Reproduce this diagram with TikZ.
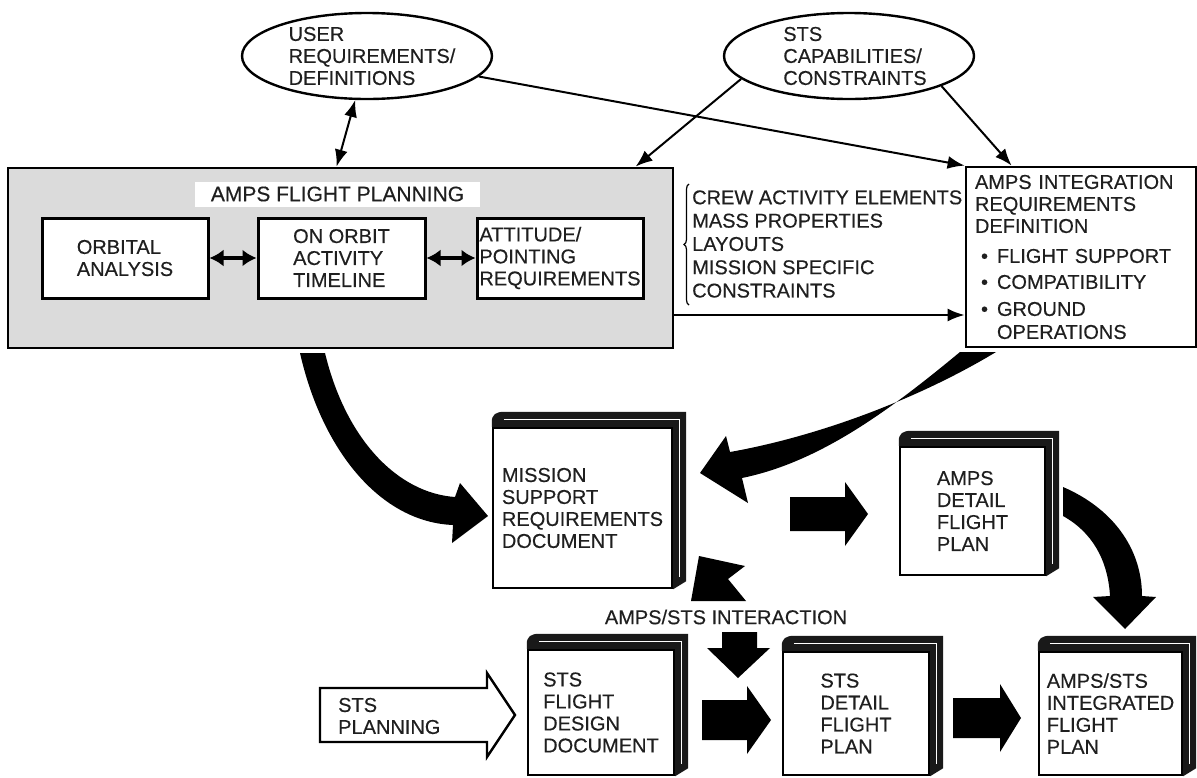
\documentclass[tikz,border=0pt]{standalone}
\usepackage{fontspec}
\setmainfont{Liberation Sans}[FakeBold=0.35]
\usetikzlibrary{shapes.geometric,arrows.meta,calc,decorations.pathreplacing}
\newcommand\bookdeco[1]{%
  \fill[black!90] let \p1=(#1.north west), \p2=(#1.south east) in
    (\x1,\y1) -- (\x1,\y1+5pt) .. controls (\x1,\y1+12pt) and (\x1+4pt,\y1+15pt) .. (\x1+12pt,\y1+15pt)
    -- (\x2+13pt,\y1+15pt) -- (\x2+13pt,\y2+8pt) -- (\x2,\y2) -- (\x2,\y1) -- cycle;
  \draw[white, line width=1.2pt] let \p1=(#1.north west), \p2=(#1.south east) in
    (\x1+12pt,\y1+7pt) -- (\x2+6pt,\y1+7pt) -- (\x2+6pt,\y2+12pt);
}
\newcommand\bul{\hspace*{6pt}\textbullet\hspace{9pt}}
\begin{document}
\begin{tikzpicture}[x=1pt,y=-1pt,
  every node/.style={font=\fontsize{20}{22}\selectfont, inner sep=0pt, text=black!88},
  oval/.style={ellipse, draw, line width=2.4pt, minimum width=250pt, minimum height=86pt},
  inbox/.style={draw, line width=3pt, fill=white, minimum width=166pt, minimum height=80pt, align=left},
  cover/.style={draw, line width=2.4pt, fill=white, align=left},
  conn/.style={line width=2pt, -{Latex[length=17pt,width=13pt]}},
  conntwo/.style={line width=2pt, {Latex[length=17pt,width=13pt]}-{Latex[length=17pt,width=13pt]}},
  dbl/.style={line width=4pt, {Latex[length=14pt,width=17pt]}-{Latex[length=14pt,width=17pt]}},
  blk/.style={fill=black}
]
\useasboundingbox (0,0) rectangle (1197,777);

% ellipses
\node[oval] (user) at (367,56) {};
\node[align=left] (usertext) at (372,56) {USER\\REQUIREMENTS/\\DEFINITIONS};
\node[oval] (sts) at (849,56) {};
\node[align=left] (ststext) at (855,56) {STS\\CAPABILITIES/\\CONSTRAINTS};

% flight planning
\node[draw, line width=2.8pt, fill=black!14, minimum width=665pt, minimum height=180pt] (fp) at (340.5,258) {};
\node[fill=white, minimum width=285pt, minimum height=25pt, font=\fontsize{21}{22}\selectfont] (fptitle) at (337.5,194) {AMPS FLIGHT PLANNING};
\node[inbox] (orb) at (125,258) {ORBITAL\\ANALYSIS};
\node[inbox, minimum width=167pt] (tl) at (341.5,258) {ON ORBIT\\ACTIVITY\\TIMELINE};
\node[inbox] (att) at (560,258) {ATTITUDE/\\POINTING\\REQUIREMENTS};
\draw[dbl] (orb) -- (tl);
\draw[dbl] (tl) -- (att);

% integration box
\node[draw, line width=2.8pt, fill=white, minimum height=180pt, text width=212pt, inner xsep=9pt, align=left] (int) at (1081,257)
 {AMPS INTEGRATION\\REQUIREMENTS\\DEFINITION\\[8pt]\bul FLIGHT SUPPORT\\[4pt]\bul COMPATIBILITY\\[5pt]\bul GROUND\\[1pt]\hspace*{22pt}OPERATIONS};

% list with brace
\node[align=left, font=\fontsize{20}{23.3}\selectfont, anchor=west] (list) at (692,244)
 {CREW ACTIVITY ELEMENTS\\MASS PROPERTIES\\LAYOUTS\\MISSION SPECIFIC\\CONSTRAINTS};
\draw[line width=1.2pt, decorate, decoration={brace, amplitude=5pt}] (689,305) -- (689,184);

% connectors
\draw[conntwo] (user.255) -- ($(fp.north west)+(330,0)$);
\draw[conn] (user) -- (int.north west);
\draw[conn] (sts.192) -- ($(fp.north west)+(629,0)$);
\draw[conn] (sts.342) -- ($(int.north west)+(47,0)$);
\draw[conn] ([yshift=-57pt]fp.east) -- ([yshift=-57pt]fp.east -| int.west);

% books
\node[cover, minimum width=179pt, minimum height=160pt] (msrd) at (582.5,508) {MISSION\\SUPPORT\\REQUIREMENTS\\DOCUMENT};
\bookdeco{msrd}
\node[cover, minimum width=145pt, minimum height=128pt] (adfp) at (972.5,511) {AMPS\\DETAIL\\FLIGHT\\PLAN};
\bookdeco{adfp}
\node[cover, minimum width=146pt, minimum height=125pt] (fdd) at (601,712.5) {STS\\FLIGHT\\DESIGN\\DOCUMENT};
\bookdeco{fdd}
\node[cover, minimum width=146pt, minimum height=123pt] (sdfp) at (856,713.5) {STS\\DETAIL\\FLIGHT\\PLAN};
\bookdeco{sdfp}
\node[cover, minimum width=143pt, minimum height=123pt] (ifp) at (1110.5,713.5) {AMPS/STS\\INTEGRATED\\FLIGHT\\PLAN};
\bookdeco{ifp}

% STS planning hollow arrow
\draw[line width=2.4pt, fill=white] (320,688) -- (487,688) -- (487,673) -- (515,715) -- (487,757) -- (487,742) -- (320,742) -- cycle;
\node[align=left, anchor=west] (stsplan) at (338,716) {STS\\PLANNING};

% block arrows
\fill[blk] (790,497) -- (845,497) -- (845,482) -- (868,514) -- (845,546) -- (845,531) -- (790,531) -- cycle;
\fill[blk] (702,700) -- (747,700) -- (747,686) -- (771,720) -- (747,754) -- (747,740) -- (702,740) -- cycle;
\fill[blk] (953,698) -- (1000,698) -- (1000,684) -- (1021,718) -- (1000,752) -- (1000,738) -- (953,738) -- cycle;
\fill[blk] (699,556) -- (745,566) -- (728,579) -- (746,601) -- (691,601) -- cycle;
\fill[blk] (722,632) -- (757,632) -- (757,648) -- (770,648) -- (738,678) -- (707,648) -- (722,648) -- cycle;
\node (inter) at (726,617) {AMPS/STS INTERACTION};

% curved arrows
\fill[blk] (300,353) .. controls (322,450) and (380,522) .. (453,525) -- (452,543) -- (488,516) -- (460,483) -- (455,497) .. controls (398,493) and (346,440) .. (325,353) -- cycle;
\fill[blk] (960,352) .. controls (890,410) and (820,462) .. (742,478) -- (748,503) -- (700,473) -- (726,436) -- (730,452) .. controls (820,436) and (920,398) .. (996,352) -- cycle;
\fill[blk] (1063,487) .. controls (1112,508) and (1142,548) .. (1142,596) -- (1156,597) -- (1125,629) -- (1093,597) -- (1110,596) .. controls (1108,560) and (1092,532) .. (1063,516) -- cycle;
\end{tikzpicture}
\end{document}
